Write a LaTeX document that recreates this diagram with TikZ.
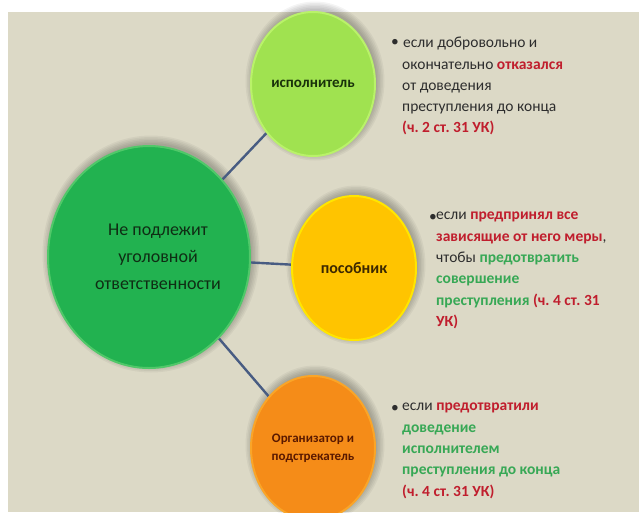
\documentclass[tikz,border=0pt]{standalone}
\usepackage{fontspec}
\setmainfont{Carlito}
\usetikzlibrary{shapes.geometric,backgrounds}
\frenchspacing
\definecolor{bgbeige}{RGB}{220,217,198}
\definecolor{bigGreen}{RGB}{34,178,80}
\definecolor{bigRim}{RGB}{80,200,105}
\definecolor{lightGreen}{RGB}{160,226,80}
\definecolor{lightRim}{RGB}{185,242,105}
\definecolor{yellowFill}{RGB}{255,196,0}
\definecolor{yellowRim}{RGB}{255,230,0}
\definecolor{orangeFill}{RGB}{245,140,24}
\definecolor{orangeRim}{RGB}{250,165,40}
\definecolor{linkBlue}{RGB}{72,92,130}
\definecolor{txtRed}{RGB}{192,30,45}
\definecolor{txtGreen}{RGB}{55,168,85}
\definecolor{txtDark}{RGB}{45,45,45}
\tikzset{
  bubble/.style={ellipse, inner sep=0pt, line width=2pt, align=center},
  smallbubble/.style={bubble, minimum width=124pt, minimum height=144pt},
  link/.style={draw=linkBlue, line width=2.4pt},
  bullettext/.style={anchor=north west, inner sep=0pt, align=left, text=txtDark,
    font=\fontsize{15.5}{21.3}\selectfont\frenchspacing},
  bulletdot/.style={anchor=base west, inner sep=0pt, text=txtDark,
    font=\fontsize{15.5}{21.3}\selectfont},
  softshadow/.style={fill=black, opacity=0.045}
}
\newcommand{\rd}[1]{\textcolor{txtRed}{\textbf{#1}}}
\newcommand{\gr}[1]{\textcolor{txtGreen}{\textbf{#1}}}
\newcommand{\shadowof}[3]{%
  \foreach \k in {0,1.5,3,4.5,6,7.5}{%
    \fill[softshadow] ([xshift=2pt,yshift=3pt]#1.center) ellipse [x radius=#2+\k, y radius=#3+\k];}}
\begin{document}
\begin{tikzpicture}[x=1pt,y=-1pt]
\useasboundingbox (0,0) rectangle (639,512);
\clip (0,0) rectangle (639,512);
\begin{scope}[on background layer]
  \fill[white] (0,0) rectangle (639,512);
  \fill[bgbeige] (8,12) rectangle (639,512);
\end{scope}

\node[bubble, fill=bigGreen, draw=bigRim, minimum width=202pt, minimum height=222pt,
  label={[name=bigtxt, xshift=9pt, align=center, text={rgb,255:red,15;green,45;blue,20},
  font=\fontsize{18}{27}\selectfont]center:Не подлежит\\уголовной\\ответственности}] (big) at (149,257) {};

\node[smallbubble, fill=lightGreen, draw=lightRim, text={rgb,255:red,25;green,50;blue,10},
  font=\bfseries\fontsize{15}{18}\selectfont] (ispol) at (313,84) {исполнитель};
\node[smallbubble, fill=yellowFill, draw=yellowRim, text={rgb,255:red,60;green,40;blue,0},
  font=\bfseries\fontsize{16}{18}\selectfont] (posob) at (354,268) {пособник};
\node[smallbubble, fill=orangeFill, draw=orangeRim, text={rgb,255:red,90;green,25;blue,0},
  font=\bfseries\fontsize{13}{18}\selectfont] (org) at (313,448) {Организатор и\\подстрекатель};

\begin{scope}[on background layer]
  \shadowof{big}{101}{111}
  \shadowof{ispol}{62}{72}
  \shadowof{posob}{62}{72}
  \shadowof{org}{62}{72}
\end{scope}
\begin{scope}[on background layer]
  \draw[link] (big) -- (ispol);
  \draw[link] (big) -- (posob);
  \draw[link] (big) -- (org);
\end{scope}

\node[bulletdot] (b1) at (391,46) {•};
\node[bullettext] (t1) at (403,37)
  {если добровольно и\\\hspace*{-1pt}окончательно \rd{отказался}\\\hspace*{-1pt}от доведения\\\hspace*{-1pt}преступления до конца\\\hspace*{-1pt}\rd{(ч. 2 ст. 31 УК)}};

\node[bulletdot] (b2) at (429,221) {•};
\node[bullettext] (t2) at (436,212)
  {если \rd{предпринял все}\\\rd{зависящие от него меры},\\чтобы \gr{предотвратить}\\\gr{совершение}\\\gr{преступления} \rd{(ч. 4 ст. 31}\\\rd{УК)}};

\node[bulletdot] (b3) at (391,412) {•};
\node[bullettext] (t3) at (402,403)
  {если \rd{предотвратили}\\\gr{доведение}\\\gr{исполнителем}\\\gr{преступления до конца}\\\rd{(ч. 4 ст. 31 УК)}};
\end{tikzpicture}
\end{document}
